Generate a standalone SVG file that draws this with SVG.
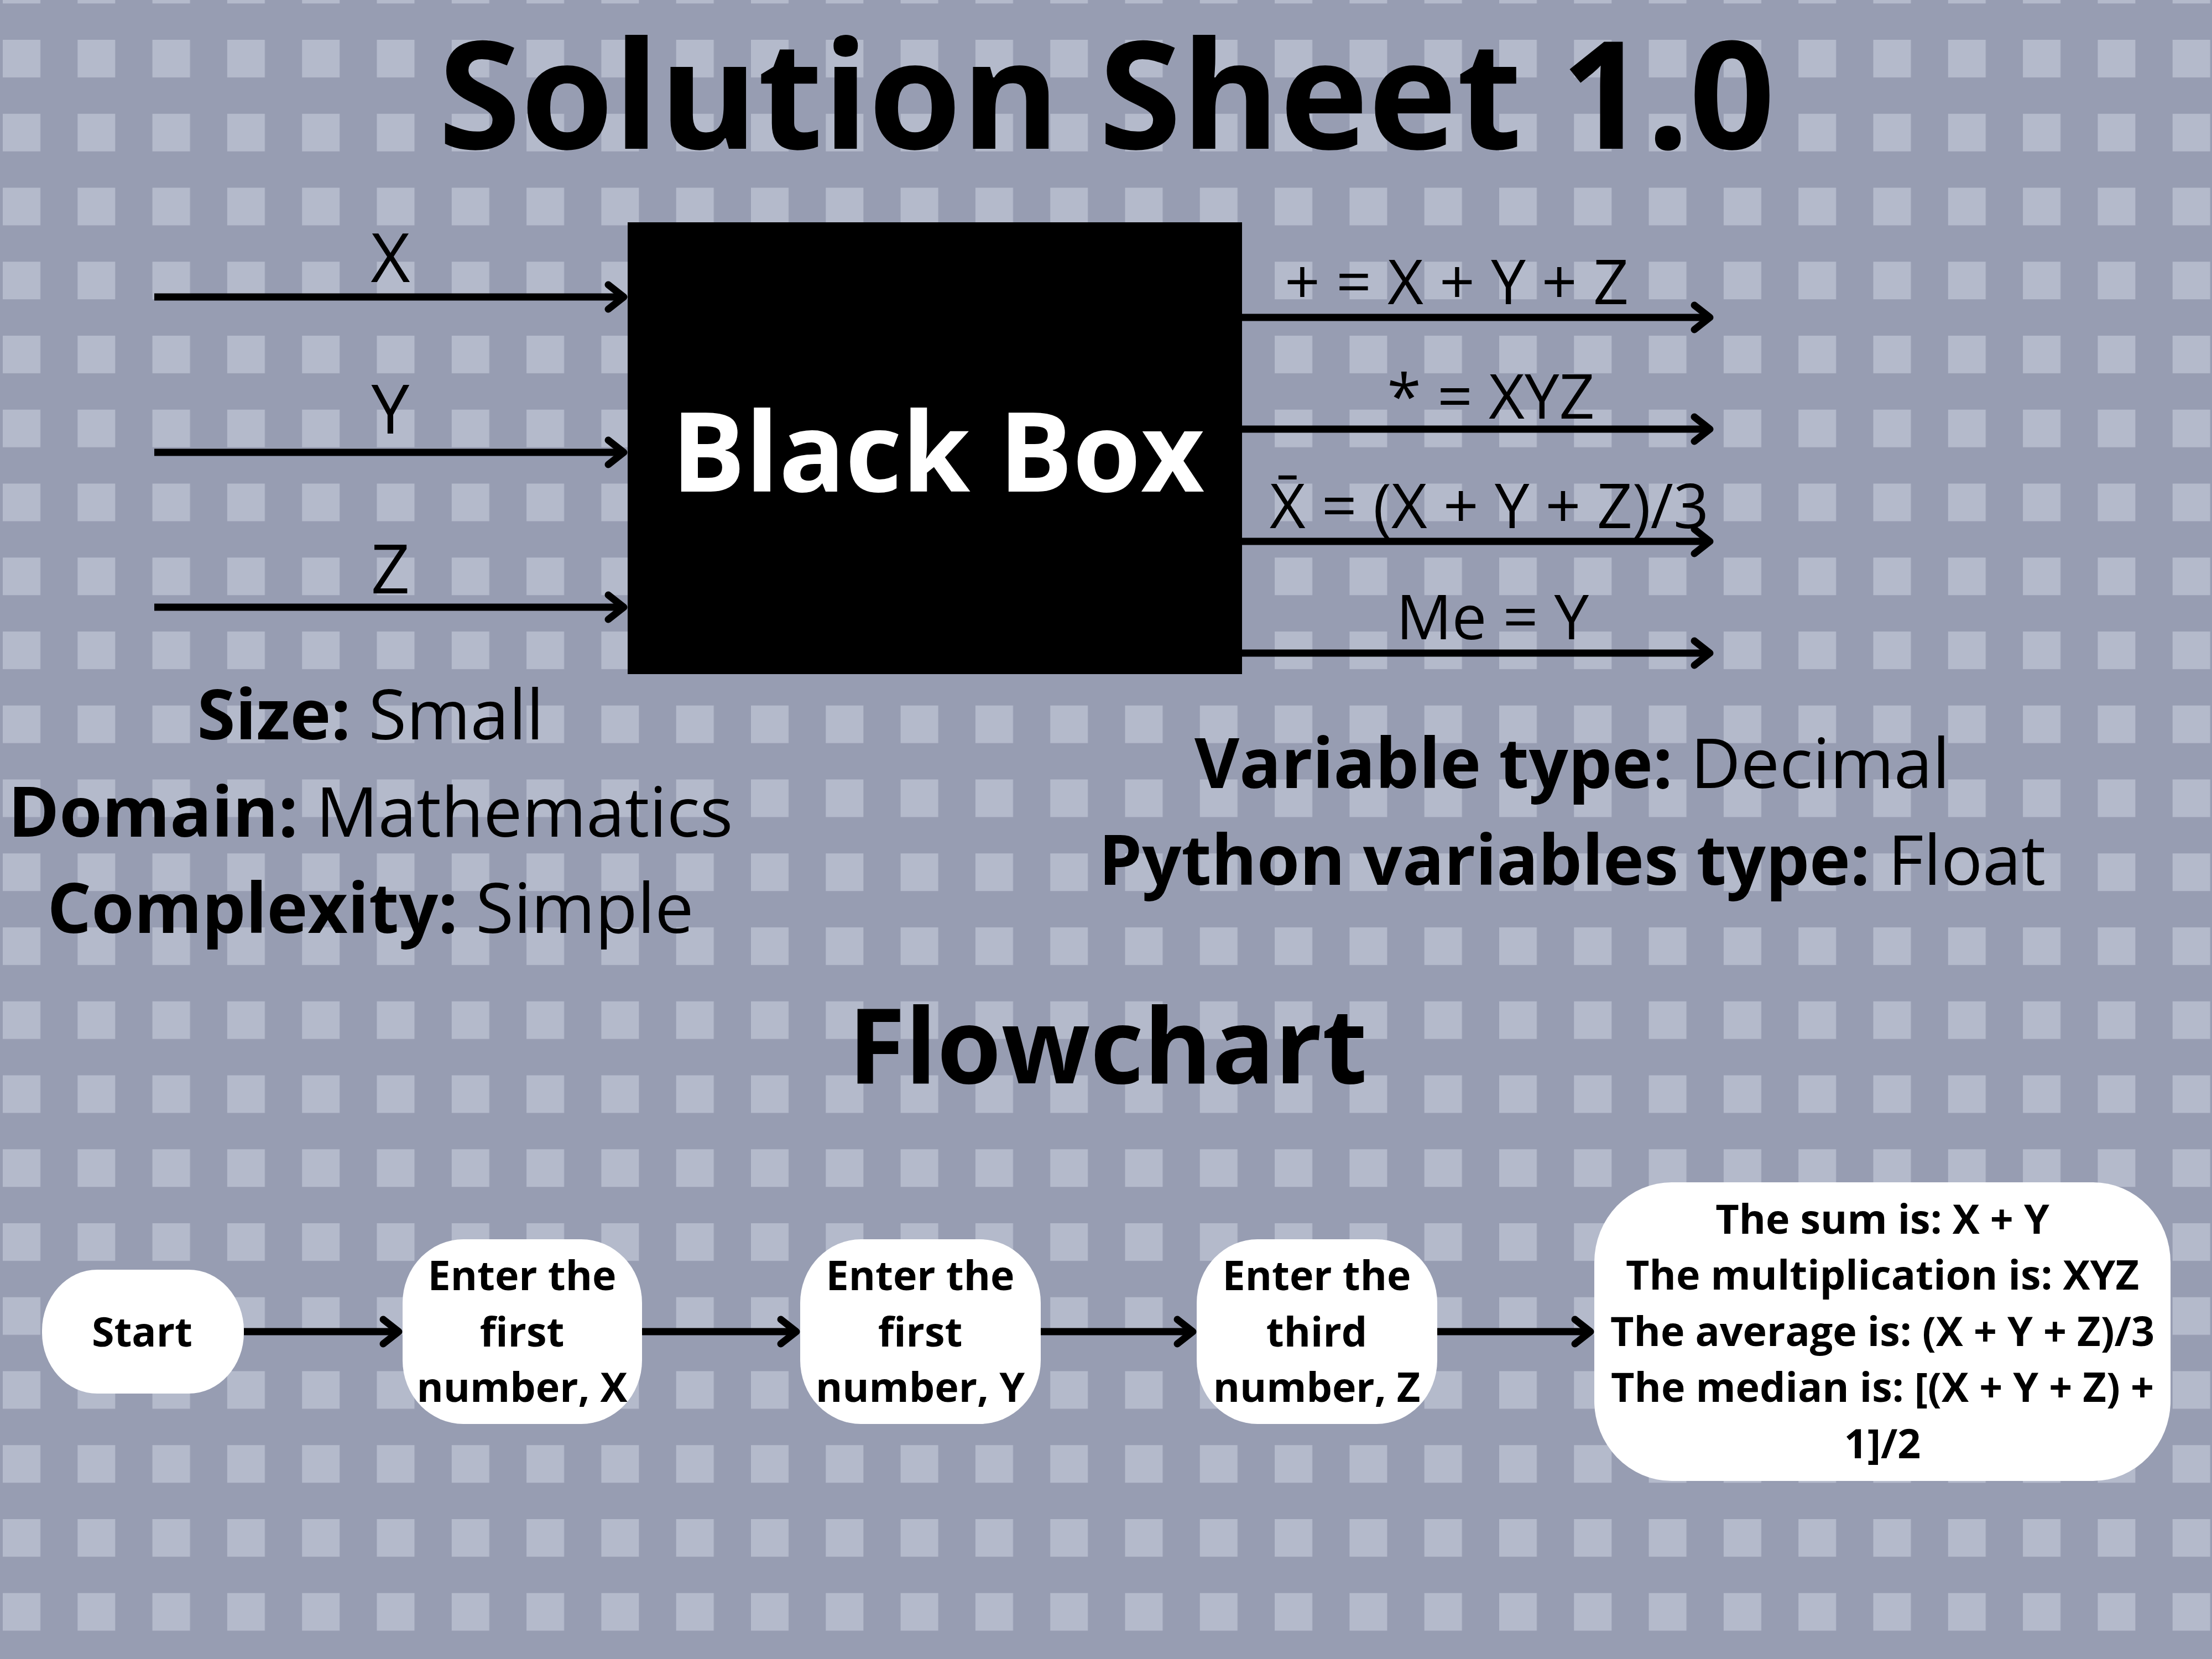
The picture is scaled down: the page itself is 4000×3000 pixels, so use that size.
<svg xmlns="http://www.w3.org/2000/svg" width="4000" height="3000" viewBox="0 0 4000 3000">
<defs>
<pattern id="grid" patternUnits="userSpaceOnUse" x="5" y="72" width="135.3" height="133.75">
<rect x="0" y="0" width="68" height="68" fill="#b4bacb"/>
</pattern>
<marker id="arr" markerUnits="userSpaceOnUse" markerWidth="60" markerHeight="70" viewBox="0 0 60 70" refX="44" refY="35" orient="auto">
<path d="M 16 13 L 44 35 L 16 57" fill="none" stroke="#000" stroke-width="13" stroke-linecap="round" stroke-linejoin="round"/>
</marker>
<style>
text{font-family:"Open Sans","Noto Sans","DejaVu Sans",sans-serif;fill:#000}
.b{font-weight:700}
.r{font-weight:400}
.lbl{font-size:123px;font-weight:400;text-anchor:middle}
.out{font-size:112px;font-weight:400;text-anchor:middle}
.info{font-size:125px;text-anchor:middle}
.nt{font-size:73.5px;font-weight:700;text-anchor:middle}
.node{fill:#fff}
.conn line{stroke:#000;stroke-width:13;marker-end:url(#arr)}
</style>
</defs>
<rect width="4000" height="3000" fill="#979db2"/>
<rect width="4000" height="3000" fill="url(#grid)"/>

<text x="2001" y="269" class="b" font-size="271" text-anchor="middle">Solution Sheet 1.0</text>

<g id="blackbox">
<rect x="1135" y="402" width="1111" height="817" fill="#000"/>
<text x="1696" y="889" class="b" font-size="199" text-anchor="middle" style="fill:#fff">Black Box</text>
</g>

<g id="connectors" class="conn">
<line x1="279" y1="537" x2="1128" y2="537"/>
<line x1="279" y1="818" x2="1128" y2="818"/>
<line x1="279" y1="1098" x2="1128" y2="1098"/>
<line x1="2246" y1="574" x2="3092" y2="574"/>
<line x1="2246" y1="776" x2="3092" y2="776"/>
<line x1="2246" y1="979" x2="3092" y2="979"/>
<line x1="2246" y1="1181" x2="3092" y2="1181"/>
<line x1="441" y1="2408" x2="721" y2="2408"/>
<line x1="1161" y1="2408" x2="1440" y2="2408"/>
<line x1="1882" y1="2408" x2="2157" y2="2408"/>
<line x1="2599" y1="2408" x2="2876" y2="2408"/>
</g>

<g id="input-labels">
<text x="706" y="510" class="lbl">X</text>
<text x="706" y="784" class="lbl">Y</text>
<text x="706" y="1073" class="lbl">Z</text>
</g>

<g id="output-labels">
<text x="2634" y="550" class="out">+ = X + Y + Z</text>
<text x="2696" y="757" class="out">* = XYZ</text>
<text x="2693" y="955" class="out">X̄ = (X + Y + Z)/3</text>
<text x="2699" y="1156" class="out">Me = Y</text>
</g>

<g id="properties-left">
<text x="670" y="1337" class="info"><tspan class="b">Size:</tspan><tspan class="r"> Small</tspan></text>
<text x="670" y="1513" class="info"><tspan class="b">Domain:</tspan><tspan class="r"> Mathematics</tspan></text>
<text x="670" y="1687" class="info"><tspan class="b">Complexity:</tspan><tspan class="r"> Simple</tspan></text>
</g>

<g id="properties-right">
<text x="2843" y="1425" class="info"><tspan class="b">Variable type:</tspan><tspan class="r"> Decimal</tspan></text>
<text x="2843" y="1600" class="info"><tspan class="b">Python variables type:</tspan><tspan class="r"> Float</tspan></text>
</g>

<text x="2003" y="1959" class="b" font-size="188" text-anchor="middle">Flowchart</text>

<g id="node-start">
<rect x="76" y="2296" width="365" height="224" rx="100" ry="110" class="node"/>
<text x="257" y="2435" class="nt">Start</text>
</g>
<g id="node-x">
<rect x="728" y="2241" width="433" height="334" rx="110" ry="115" class="node"/>
<text class="nt"><tspan x="944" y="2333">Enter the</tspan><tspan x="944" y="2435">first</tspan><tspan x="944" y="2535">number, X</tspan></text>
</g>
<g id="node-y">
<rect x="1447" y="2241" width="435" height="334" rx="110" ry="115" class="node"/>
<text class="nt"><tspan x="1664" y="2333">Enter the</tspan><tspan x="1664" y="2435">first</tspan><tspan x="1664" y="2535">number, Y</tspan></text>
</g>
<g id="node-z">
<rect x="2164" y="2241" width="435" height="334" rx="110" ry="115" class="node"/>
<text class="nt"><tspan x="2381" y="2333">Enter the</tspan><tspan x="2381" y="2435">third</tspan><tspan x="2381" y="2535">number, Z</tspan></text>
</g>
<g id="node-output">
<rect x="2883" y="2138" width="1042" height="540" rx="140" ry="145" class="node"/>
<text class="nt"><tspan x="3404" y="2231">The sum is: X + Y</tspan><tspan x="3404" y="2332">The multiplication is: XYZ</tspan><tspan x="3404" y="2434">The average is: (X + Y + Z)/3</tspan><tspan x="3404" y="2535">The median is: [(X + Y + Z) +</tspan><tspan x="3404" y="2637">1]/2</tspan></text>
</g>
</svg>
